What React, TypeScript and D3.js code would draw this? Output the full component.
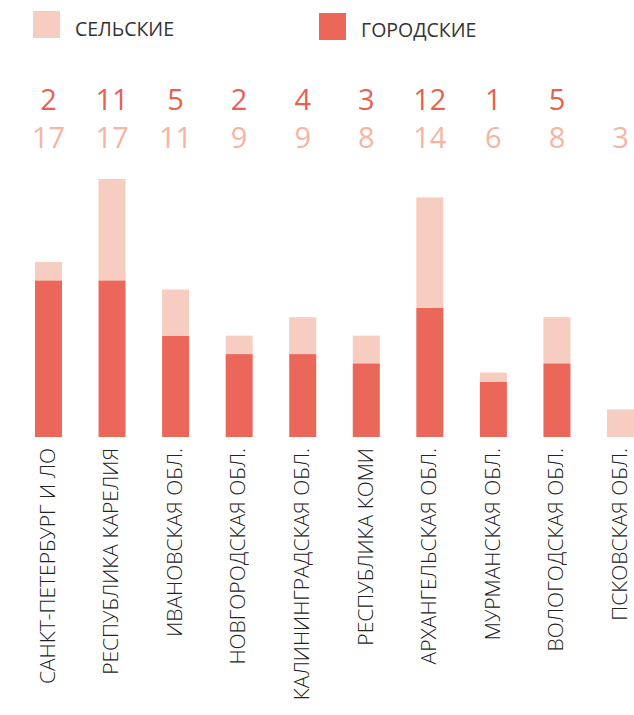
import React from "react";
import * as d3 from "d3";

const categories = [
  "САНКТ-ПЕТЕРБУРГ И ЛО",
  "РЕСПУБЛИКА КАРЕЛИЯ",
  "ИВАНОВСКАЯ ОБЛ.",
  "НОВГОРОДСКАЯ ОБЛ.",
  "КАЛИНИНГРАДСКАЯ ОБЛ.",
  "РЕСПУБЛИКА КОМИ",
  "АРХАНГЕЛЬСКАЯ ОБЛ.",
  "МУРМАНСКАЯ ОБЛ.",
  "ВОЛОГОДСКАЯ ОБЛ.",
  "ПСКОВСКАЯ ОБЛ.",
];
// bottom (dark) segment
const urban = [17, 17, 11, 9, 9, 8, 14, 6, 8, 0];
// top (light) segment
const rural = [2, 11, 5, 2, 4, 3, 12, 1, 5, 3];
const topRowLabels = ["2", "11", "5", "2", "4", "3", "12", "1", "5", ""];
const bottomRowLabels = ["17", "17", "11", "9", "9", "8", "14", "6", "8", "3"];
const legendLabels = ["СЕЛЬСКИЕ", "ГОРОДСКИЕ"];

const W = 634;
const H = 715;
const DARK = "#EB675A";
const LIGHT = "#F7CCC1";
const NUM_DARK = "#E8604F";
const NUM_LIGHT = "#F6B4A2";
const FONT = "'Open Sans', sans-serif";

export default function App() {
  const rows = categories.map((c, i) => ({ cat: c, urban: urban[i], rural: rural[i] }));
  const stack = d3.stack<any>().keys(["urban", "rural"]);
  const series = stack(rows);

  const x = d3
    .scaleBand<string>()
    .domain(categories)
    .range([16.7, 652.3])
    .paddingInner(0.575)
    .paddingOuter(0.2875);
  const y = d3.scaleLinear().domain([0, 28]).range([437, 179]);

  const colors: Record<string, string> = { urban: DARK, rural: LIGHT };
  const bw = x.bandwidth();

  return (
    <svg
      width={W}
      height={H}
      style={{ position: "absolute", left: 0, top: 0, background: "#fff" }}
    >
      {/* legend */}
      <rect x={33} y={11} width={27} height={27} fill={LIGHT} />
      <text x={75} y={35.5} fontFamily={FONT} fontSize={19.5} fontWeight={400} fill="#333">
        {legendLabels[0]}
      </text>
      <rect x={319} y={13} width={27} height={27} fill={DARK} />
      <text x={361} y={36.5} fontFamily={FONT} fontSize={19.5} fontWeight={400} fill="#333">
        {legendLabels[1]}
      </text>

      {/* bars */}
      {series.map((s) => (
        <g key={s.key} fill={colors[s.key]}>
          {s.map((d, i) => {
            const h = y(d[0]) - y(d[1]);
            if (h <= 0) return null;
            return (
              <rect
                key={i}
                x={x(categories[i])}
                y={y(d[1])}
                width={bw}
                height={h}
              />
            );
          })}
        </g>
      ))}

      {/* number rows */}
      {categories.map((c, i) => (
        <g key={c}>
          <text
            x={(x(c) as number) + bw / 2}
            y={109.5}
            textAnchor="middle"
            fontFamily={FONT}
            fontWeight={400}
            fontSize={29}
            fill={NUM_DARK}
          >
            {topRowLabels[i]}
          </text>
          <text
            x={(x(c) as number) + bw / 2}
            y={148}
            textAnchor="middle"
            fontFamily={FONT}
            fontWeight={400}
            fontSize={29}
            fill={NUM_LIGHT}
          >
            {bottomRowLabels[i]}
          </text>
        </g>
      ))}

      {/* category labels */}
      {categories.map((c) => {
        const cx = (x(c) as number) + bw / 2;
        return (
          <text
            key={c}
            transform={`translate(${cx},448) rotate(-90)`}
            textAnchor="end"
            dy="0.3em"
            fontFamily={FONT}
            fontWeight={300}
            fontSize={21}
            fill="#222"
          >
            {c}
          </text>
        );
      })}
    </svg>
  );
}
